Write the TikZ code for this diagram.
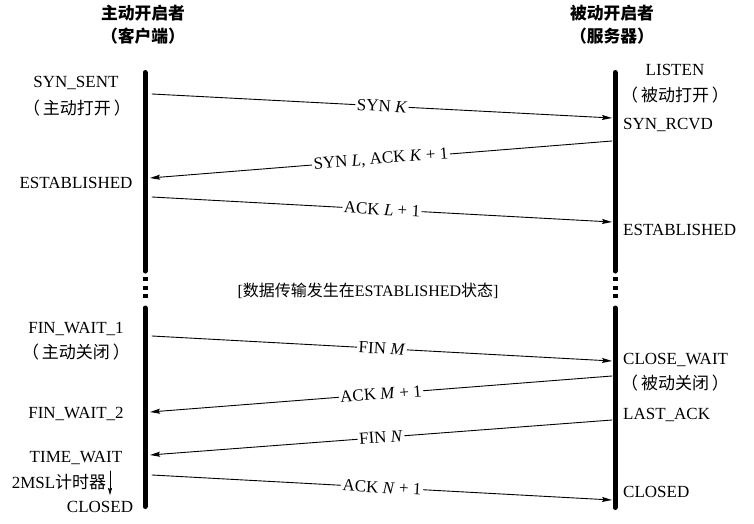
\documentclass[tikz,border=0pt]{standalone}
\usepackage{fontspec}
\setmainfont{Liberation Serif}
\newfontfamily\cjk{Noto Sans CJK SC}
\usetikzlibrary{arrows.meta}

\begin{document}
\begin{tikzpicture}[line cap=round,line join=round,>={Stealth[length=10pt,width=5pt,inset=1.5pt]},x=1pt,y=-1pt,
  every node/.style={font=\fontsize{17}{20}\selectfont,inner sep=0pt},
  head/.style={font=\fontsize{16.8}{20}\selectfont\cjk\bfseries},
  life/.style={line width=5pt},
  lifegap/.style={line width=5pt,line cap=butt,dash pattern=on 4pt off 4.5pt},
  msg/.style={->,line width=0.9pt},
  lbl/.style={midway,sloped,fill=white,inner sep=1.5pt}]
\useasboundingbox (0,0) rectangle (754,524);

\node[head] (hc) at (143,13) {主动开启者};
\node[head] (hcs) at (143,36) {（客户端）};
\node[head] (hs) at (612,13) {被动开启者};
\node[head] (hss) at (612,36) {（服务器）};

\coordinate (la) at (145,72.5);
\coordinate (lb) at (145,271);
\coordinate (lc) at (145,277);
\coordinate (ld) at (145,300);
\coordinate (le) at (145,308);
\coordinate (lf) at (145,506.5);
\coordinate (ra) at (615,72.5);
\coordinate (rb) at (615,271);
\coordinate (rc) at (615,277);
\coordinate (rd) at (615,300);
\coordinate (re) at (615,308);
\coordinate (rf) at (615,507.5);
\draw [life] (la) -- (lb);
\draw [lifegap] (lc) -- (ld);
\draw [life] (le) -- (lf);
\draw [life] (ra) -- (rb);
\draw [lifegap] (rc) -- (rd);
\draw [life] (re) -- (rf);

\node (synsent) at (76,83) {SYN\_SENT};
\node (aopen) at (77,108) {\cjk （\hspace{3pt}主动打开\hspace{3pt}）};
\node (cest) at (76,183) {ESTABLISHED};
\node (fw1) at (76,329) {FIN\_WAIT\_1};
\node (aclose) at (76,352) {\cjk （\hspace{3pt}主动关闭\hspace{3pt}）};
\node (fw2) at (76,414) {FIN\_WAIT\_2};
\node (tw) at (76,458) {TIME\_WAIT};
\node (msl) at (59,482) {2MSL{\cjk 计时器}};
\node (cclosed) at (100,507) {CLOSED};
\coordinate (t1) at (110,471);
\coordinate (t2) at (110,495);
\draw [-{Stealth[length=7pt,width=4pt,inset=1pt]},line width=0.8pt] (t1) -- (t2);

\node (listen) at (675,70) {LISTEN};
\node (popen) at (675,95) {\cjk （\hspace{3pt}被动打开\hspace{3pt}）};
\node [anchor=west] (rcvd) at (623,125) {SYN\_RCVD};
\node [anchor=west] (sest) at (623,230) {ESTABLISHED};
\node [anchor=west] (cw) at (623,360) {CLOSE\_WAIT};
\node (pclose) at (675,383) {\cjk （\hspace{3pt}被动关闭\hspace{3pt}）};
\node [anchor=west] (lack) at (623,415) {LAST\_ACK};
\node [anchor=west] (sclosed) at (623,492) {CLOSED};

\node [font=\fontsize{16}{19}\selectfont] (data) at (368,291) {[{\cjk 数据传输发生在}ESTABLISHED{\cjk 状态}]};

\coordinate (a1) at (152,94);
\coordinate (b1) at (612,118);
\coordinate (b2) at (612,141);
\coordinate (a2) at (150,178);
\coordinate (a3) at (152,197);
\coordinate (b3) at (612,222);
\coordinate (a4) at (152,336);
\coordinate (b4) at (612,361);
\coordinate (b5) at (612,376);
\coordinate (a5) at (150,412);
\coordinate (b6) at (612,420);
\coordinate (a6) at (150,455);
\coordinate (a7) at (152,475);
\coordinate (b7) at (612,500);
\draw [msg] (a1) -- node[lbl] {SYN \textit{K}} (b1);
\draw [msg] (b2) -- node[lbl] {SYN \textit{L}, ACK \textit{K} + 1} (a2);
\draw [msg] (a3) -- node[lbl] {ACK \textit{L} + 1} (b3);
\draw [msg] (a4) -- node[lbl] {FIN \textit{M}} (b4);
\draw [msg] (b5) -- node[lbl] {ACK \textit{M} + 1} (a5);
\draw [msg] (b6) -- node[lbl] {FIN \textit{N}} (a6);
\draw [msg] (a7) -- node[lbl] {ACK \textit{N} + 1} (b7);
\end{tikzpicture}
\end{document}
